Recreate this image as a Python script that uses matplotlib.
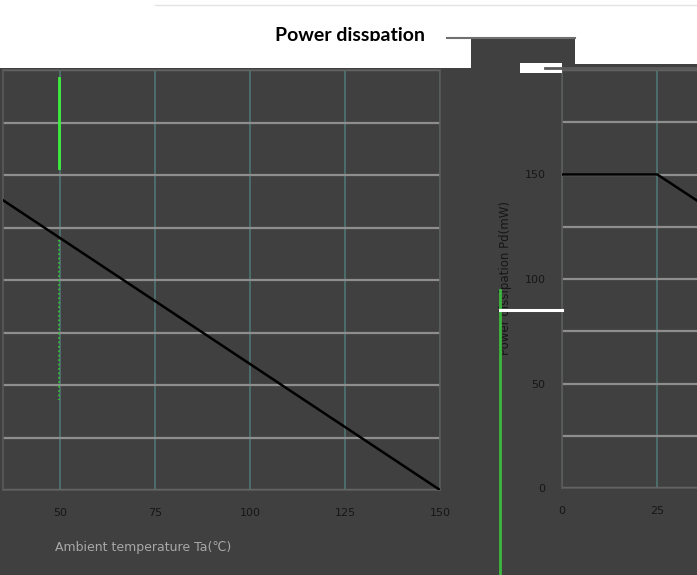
import matplotlib
matplotlib.use("Agg")
import matplotlib.pyplot as plt
from matplotlib.patches import Rectangle
from matplotlib.lines import Line2D

# derating curve: flat to 25 C, then linear to zero at 150 C
temp = [0, 25, 150]
power = [150, 150, 0]

xticks_left = [50, 75, 100, 125, 150]
xticks_right = [0, 25]
yticks = [0, 50, 100, 150]

W, H = 697, 575
bg = "#404040"
hgrid = "#8e8e8e"
vgrid = "#4f7474"
txt = "#161616"

fig = plt.figure(figsize=(W / 100, H / 100), dpi=100, facecolor=bg)

def box(x0, y0, x1, y1):
    # pixel box (top-left origin) -> figure fraction
    return [x0 / W, 1 - y1 / H, (x1 - x0) / W, (y1 - y0) / H]

def prect(x0, y0, x1, y1, color, z=5):
    fig.add_artist(Rectangle((x0 / W, 1 - y1 / H), (x1 - x0) / W, (y1 - y0) / H,
                             transform=fig.transFigure, facecolor=color,
                             edgecolor="none", zorder=z))

def pline(xs, ys, color, lw, ls="-", z=6):
    fig.add_artist(Line2D([x / W for x in xs], [1 - y / H for y in ys],
                          transform=fig.transFigure, color=color, lw=lw,
                          ls=ls, zorder=z))

def style(ax):
    ax.set_facecolor(bg)
    ax.set_ylim(0, 200)
    ax.set_yticks(range(0, 201, 25), minor=False)
    ax.grid(axis="y", color=hgrid, lw=1.6)
    ax.grid(axis="x", color=vgrid, lw=1.2)
    ax.set_axisbelow(True)
    for s in ax.spines.values():
        s.set_color("#5a5a5a")
        s.set_linewidth(1.2)
    ax.tick_params(length=0, labelsize=8, labelcolor=txt, pad=13)
    ax.plot(temp, power, color="black", lw=1.8, zorder=3)

# left panel
ax1 = fig.add_axes(box(3, 70, 440, 490))
style(ax1)
ax1.set_xlim(35, 150)
ax1.set_xticks(xticks_left)
ax1.set_yticklabels([])

# right panel
ax2 = fig.add_axes(box(562, 70, 705, 488))
style(ax2)
ax2.set_xlim(0, 37.5)
ax2.set_xticks(xticks_right)
ax2.set_yticks(range(0, 201, 25))
ax2.set_yticklabels([str(v) if v in yticks else "" for v in range(0, 201, 25)])
ax2.tick_params(axis="y", pad=12)

fig.text(55 / W, 1 - 548 / H, "Ambient temperature Ta(\u2103)", fontsize=9,
         color="#a8a8a8", ha="left", va="center")
fig.text(506 / W, 1 - 278 / H, "Power dissipation Pd(mW)", fontsize=8.5,
         color=txt, rotation=90, ha="center", va="center")

# white header band
prect(0, 0, W, 38, "white", z=2)
prect(0, 38, 471, 68, "white", z=2)
prect(575, 38, W, 64, "white", z=2)
prect(520, 63, 562, 73, "white", z=2)
pline([447, 575], [38, 38], "#707070", 1.5, z=3)
pline([545, W], [67.5, 67.5], "#5a5a5a", 2, z=3)
pline([155, W], [5, 5], "#e4e4e4", 1, z=3)
fig.text(350 / W, 1 - 36 / H, "Power disspation", fontsize=14, fontweight="bold",
         family="Lato", color="black", ha="center", va="center", zorder=4)
prect(200, 41, 440, 60, "white", z=5)

# stray artefact strokes
pline([59, 59], [78, 168], "#3df03d", 2)
pline([59, 59], [240, 400], "#36c836", 1.2, ls=":")
pline([500, 500], [290, H], "#3cb83c", 2)
pline([500, 562], [310, 310], "white", 2.2)

fig.savefig("out.png", dpi=100, facecolor=bg)
